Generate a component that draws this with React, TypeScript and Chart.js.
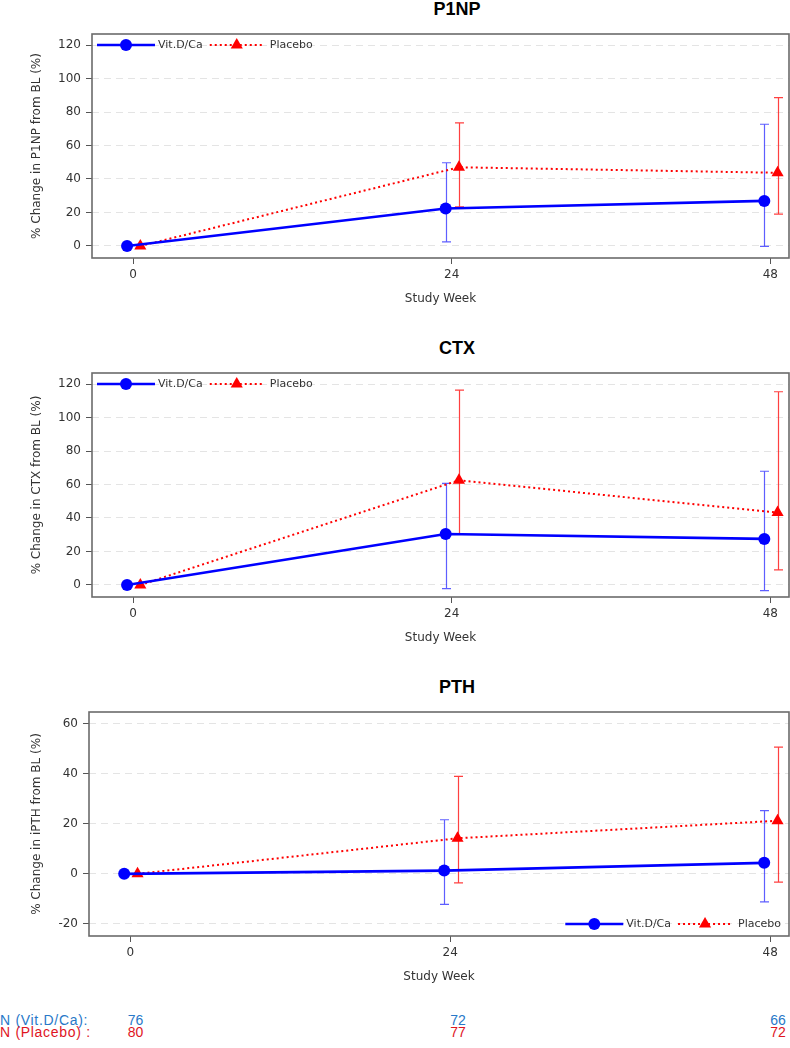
import React, { useEffect, useRef } from 'react';
import { Chart, registerables } from 'chart.js';

Chart.register(...registerables);

// ---------- data ----------
const WEEKS = [0, 24, 48];
const X_TICKS = [0, 24, 48];
const SERIES = ['Vit.D/Ca', 'Placebo'];

const P1NP_VIT = [0, 22.4, 26.9];
const P1NP_VIT_LO = [null, 2.4, -0.2];
const P1NP_VIT_HI = [null, 49.7, 72.7];
const P1NP_PBO = [0, 47.0, 43.7];
const P1NP_PBO_LO = [null, 23.4, 19.0];
const P1NP_PBO_HI = [null, 73.5, 88.6];

const CTX_VIT = [0, 30.4, 27.5];
const CTX_VIT_LO = [null, -2.2, -3.4];
const CTX_VIT_HI = [null, 60.7, 67.9];
const CTX_PBO = [0, 62.5, 43.2];
const CTX_PBO_LO = [null, 30.5, 9.0];
const CTX_PBO_HI = [null, 116.4, 115.4];

const PTH_VIT = [0, 1.3, 4.4];
const PTH_VIT_LO = [null, -12.2, -11.2];
const PTH_VIT_HI = [null, 21.6, 25.2];
const PTH_PBO = [0, 14.2, 21.2];
const PTH_PBO_LO = [null, -3.6, -3.3];
const PTH_PBO_HI = [null, 38.9, 50.6];

const BONE_Y_TICKS = [0, 20, 40, 60, 80, 100, 120];
const PTH_Y_TICKS = [-20, 0, 20, 40, 60];

const N_LABELS = ['N (Vit.D/Ca):', 'N (Placebo) :'];
const N_VIT = [76, 72, 66];
const N_PBO = [80, 77, 72];

// ---------- style constants ----------
const VIT_DODGE = -0.45;
const PBO_DODGE = 0.55;
const FONT = '"DejaVu Sans", sans-serif';
const BLUE = '#0000ff';
const RED = '#ff0000';
const N_COL_X = [135.5, 458, 778];
const CANVAS_W = 796;
const CANVAS_H = 310;

type Panel = {
  title: string;
  yLabel: string;
  vit: number[]; vitLo: (number | null)[]; vitHi: (number | null)[];
  pbo: number[]; pboLo: (number | null)[]; pboHi: (number | null)[];
  yMin: number; yMax: number; yTicks: number[];
  legend: 'topleft' | 'bottomright';
  yAxisWidth: number;
  top: number;
};

const PANELS: Panel[] = [
  {
    title: 'P1NP', yLabel: '% Change in P1NP from BL (%)',
    vit: P1NP_VIT, vitLo: P1NP_VIT_LO, vitHi: P1NP_VIT_HI,
    pbo: P1NP_PBO, pboLo: P1NP_PBO_LO, pboHi: P1NP_PBO_HI,
    yMin: -7.2, yMax: 126.6, yTicks: BONE_Y_TICKS, legend: 'topleft', yAxisWidth: 66, top: 0,
  },
  {
    title: 'CTX', yLabel: '% Change in CTX from BL (%)',
    vit: CTX_VIT, vitLo: CTX_VIT_LO, vitHi: CTX_VIT_HI,
    pbo: CTX_PBO, pboLo: CTX_PBO_LO, pboHi: CTX_PBO_HI,
    yMin: -7.2, yMax: 126.6, yTicks: BONE_Y_TICKS, legend: 'topleft', yAxisWidth: 66, top: 339,
  },
  {
    title: 'PTH', yLabel: '% Change in iPTH from BL (%)',
    vit: PTH_VIT, vitLo: PTH_VIT_LO, vitHi: PTH_VIT_HI,
    pbo: PTH_PBO, pboLo: PTH_PBO_LO, pboHi: PTH_PBO_HI,
    yMin: -24.8, yMax: 64.6, yTicks: PTH_Y_TICKS, legend: 'bottomright', yAxisWidth: 63, top: 678,
  },
];

// ---------- plugins ----------
function drawMarker(ctx: CanvasRenderingContext2D, style: string, x: number, y: number, r: number, color: string) {
  ctx.save();
  ctx.fillStyle = color;
  ctx.beginPath();
  if (style === 'triangle') {
    let rad = 0;
    const step = (2 * Math.PI) / 3;
    ctx.moveTo(x + Math.sin(rad) * r, y - Math.cos(rad) * r);
    rad += step;
    ctx.lineTo(x + Math.sin(rad) * r, y - Math.cos(rad) * r);
    rad += step;
    ctx.lineTo(x + Math.sin(rad) * r, y - Math.cos(rad) * r);
    ctx.closePath();
  } else {
    ctx.arc(x, y, r, 0, Math.PI * 2);
  }
  ctx.fill();
  ctx.restore();
}

const boxPlugin = {
  id: 'plotBox',
  beforeDatasetsDraw(chart: any) {
    const { ctx, chartArea: ca } = chart;
    ctx.save();
    ctx.strokeStyle = '#6b6b6b';
    ctx.lineWidth = 1.6;
    ctx.strokeRect(ca.left, ca.top, ca.right - ca.left, ca.bottom - ca.top);
    ctx.restore();
  },
};

const errorBarPlugin = {
  id: 'errorBars',
  beforeDatasetsDraw(chart: any) {
    const { ctx } = chart;
    const xs = chart.scales.x;
    const ys = chart.scales.y;
    chart.data.datasets.forEach((ds: any) => {
      if (!ds.errLo) return;
      ctx.save();
      ctx.strokeStyle = ds.errColor;
      ctx.lineWidth = 1.2;
      ds.data.forEach((p: any, i: number) => {
        const lo = ds.errLo[i];
        const hi = ds.errHi[i];
        if (lo == null || hi == null) return;
        const x = Math.round(xs.getPixelForValue(p.x)) + 0.5;
        const y1 = ys.getPixelForValue(lo);
        const y2 = ys.getPixelForValue(hi);
        ctx.beginPath();
        ctx.moveTo(x, y1); ctx.lineTo(x, y2);
        ctx.moveTo(x - 4.5, y1); ctx.lineTo(x + 4.5, y1);
        ctx.moveTo(x - 4.5, y2); ctx.lineTo(x + 4.5, y2);
        ctx.stroke();
      });
      ctx.restore();
    });
  },
};

const legendPlugin = {
  id: 'insideLegend',
  afterDatasetsDraw(chart: any, _args: any, opts: any) {
    const { ctx, chartArea: ca } = chart;
    const ds = chart.data.datasets;
    const segs = [58, 54];
    const gapSegText = [3, 6];
    const gapTextSeg = 7;
    ctx.save();
    ctx.font = `11px ${FONT}`;
    const tw = ds.map((d: any) => ctx.measureText(d.label).width);
    const total = segs[0] + gapSegText[0] + tw[0] + gapTextSeg + segs[1] + gapSegText[1] + tw[1];
    let x = opts.position === 'topleft' ? ca.left + 5 : ca.right - 8 - total;
    const y = opts.position === 'topleft' ? ca.top + 11 : ca.bottom - 12;
    ds.forEach((d: any, i: number) => {
      ctx.strokeStyle = d.borderColor;
      ctx.lineWidth = d.borderWidth;
      ctx.setLineDash(d.borderDash || []);
      ctx.beginPath();
      ctx.moveTo(x, y);
      ctx.lineTo(x + segs[i], y);
      ctx.stroke();
      ctx.setLineDash([]);
      drawMarker(ctx, d.pointStyle, x + segs[i] / 2, y, d.pointRadius, d.pointBackgroundColor);
      x += segs[i] + gapSegText[i];
      ctx.fillStyle = '#333';
      ctx.textAlign = 'left';
      ctx.textBaseline = 'middle';
      ctx.fillText(d.label, x, y);
      x += tw[i] + gapTextSeg;
    });
    ctx.restore();
  },
};

// ---------- components ----------
function PanelChart({ p }: { p: Panel }) {
  const ref = useRef<HTMLCanvasElement>(null);
  useEffect(() => {
    if (!ref.current) return;
    const chart = new Chart(ref.current, {
      type: 'line',
      data: {
        datasets: [
          {
            label: SERIES[0],
            data: WEEKS.map((w, i) => ({ x: w + VIT_DODGE, y: p.vit[i] })),
            errLo: p.vitLo, errHi: p.vitHi, errColor: 'rgba(40,40,255,0.75)',
            borderColor: BLUE, backgroundColor: BLUE,
            pointBackgroundColor: BLUE, pointBorderColor: BLUE,
            borderWidth: 2.6, pointStyle: 'circle', pointRadius: 6, pointBorderWidth: 0,
            tension: 0,
          } as any,
          {
            label: SERIES[1],
            data: WEEKS.map((w, i) => ({ x: w + PBO_DODGE, y: p.pbo[i] })),
            errLo: p.pboLo, errHi: p.pboHi, errColor: 'rgba(255,30,30,0.85)',
            borderColor: RED, backgroundColor: RED,
            pointBackgroundColor: RED, pointBorderColor: RED,
            borderWidth: 2, borderDash: [2, 3], pointStyle: 'triangle', pointRadius: 7, pointBorderWidth: 0,
            tension: 0,
          } as any,
        ],
      },
      options: {
        animation: false,
        responsive: false,
        devicePixelRatio: 1,
        layout: { padding: { top: 34, left: 26, right: 2, bottom: 0 } },
        plugins: {
          legend: { display: false },
          title: { display: false },
          tooltip: { enabled: false },
          insideLegend: { position: p.legend },
        } as any,
        scales: {
          x: {
            type: 'linear',
            min: -3.09,
            max: 49.41,
            afterBuildTicks: (s: any) => { s.ticks = X_TICKS.map((v) => ({ value: v })); },
            afterFit: (s: any) => { s.height = 52; },
            ticks: { color: '#333', font: { family: FONT, size: 12 }, padding: 4, maxRotation: 0 },
            grid: { drawOnChartArea: false, drawTicks: true, tickLength: 6, tickColor: '#555', tickWidth: 1 },
            border: { display: false },
            title: { display: true, text: 'Study Week', color: '#333', font: { family: FONT, size: 12 }, padding: { top: 4, bottom: 4 } },
          },
          y: {
            type: 'linear',
            min: p.yMin,
            max: p.yMax,
            afterBuildTicks: (s: any) => { s.ticks = p.yTicks.map((v) => ({ value: v })); },
            afterFit: (s: any) => { s.width = p.yAxisWidth; },
            ticks: { color: '#333', font: { family: FONT, size: 12 }, padding: 5 },
            grid: { color: '#e4e4e4', lineWidth: 1, tickLength: 6, tickColor: '#555', tickWidth: 1, tickBorderDash: [] },
            border: { display: false, dash: [7, 5] },
            title: { display: true, text: p.yLabel, color: '#333', font: { family: FONT, size: 12 }, padding: { top: 4, bottom: 4 } },
          },
        },
      } as any,
      plugins: [boxPlugin, errorBarPlugin, legendPlugin],
    });
    return () => chart.destroy();
  }, [p]);
  return (
    <>
      <div
        style={{
          position: 'absolute', left: 457, top: p.top, transform: 'translateX(-50%)',
          font: 'bold 18px "Liberation Sans", Arial, sans-serif', lineHeight: '18px', color: '#000', whiteSpace: 'nowrap',
        }}
      >
        {p.title}
      </div>
      <canvas
        ref={ref}
        width={CANVAS_W}
        height={CANVAS_H}
        style={{ position: 'absolute', left: 0, top: p.top, width: CANVAS_W, height: CANVAS_H }}
      />
    </>
  );
}

function NRow({ label, values, color, top }: { label: string; values: number[]; color: string; top: number }) {
  const base: React.CSSProperties = {
    position: 'absolute', top, font: '14px "Liberation Sans", Arial, sans-serif', lineHeight: '14px', color, whiteSpace: 'nowrap',
  };
  return (
    <>
      <div style={{ ...base, left: 0, letterSpacing: '0.7px' }}>{label}</div>
      {values.map((v, i) => (
        <div key={i} style={{ ...base, left: N_COL_X[i], transform: 'translateX(-50%)' }}>{v}</div>
      ))}
    </>
  );
}

export default function App() {
  return (
    <div style={{ position: 'absolute', left: 0, top: 0, width: 790, height: 1048, background: '#fff', overflow: 'hidden' }}>
      {PANELS.map((p) => (
        <PanelChart key={p.title} p={p} />
      ))}
      <NRow label={N_LABELS[0]} values={N_VIT} color="#2878c8" top={1013} />
      <NRow label={N_LABELS[1]} values={N_PBO} color="#e0141e" top={1025} />
    </div>
  );
}
